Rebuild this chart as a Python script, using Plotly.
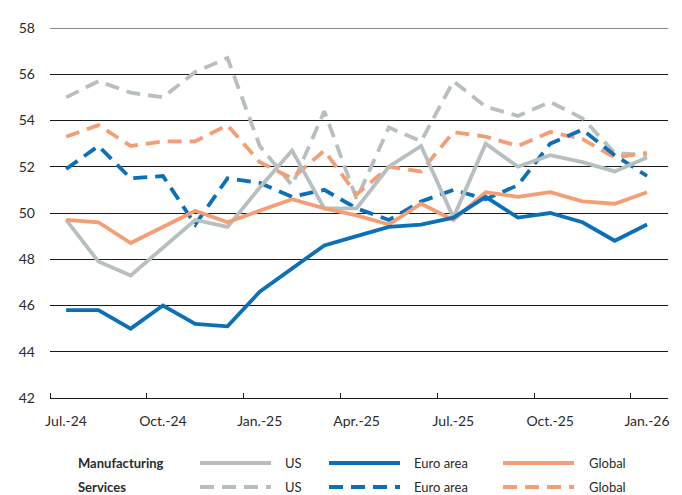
import plotly.graph_objects as go

months = ["Jul.-24", "Aug.-24", "Sep.-24", "Oct.-24", "Nov.-24", "Dec.-24",
          "Jan.-25", "Feb.-25", "Mar.-25", "Apr.-25", "May-25", "Jun.-25",
          "Jul.-25", "Aug.-25", "Sep.-25", "Oct.-25", "Nov.-25", "Dec.-25", "Jan.-26"]
tick_labels = ["Jul.-24", "Oct.-24", "Jan.-25", "Apr.-25", "Jul.-25", "Oct.-25", "Jan.-26"]

us_manuf = [49.7, 47.9, 47.3, 48.5, 49.7, 49.4, 51.1, 52.7, 50.2, 50.2, 52.0, 52.9,
            49.8, 53.0, 52.0, 52.5, 52.2, 51.8, 52.4]
ea_manuf = [45.8, 45.8, 45.0, 46.0, 45.2, 45.1, 46.6, 47.6, 48.6, 49.0, 49.4, 49.5,
            49.8, 50.7, 49.8, 50.0, 49.6, 48.8, 49.5]
gl_manuf = [49.7, 49.6, 48.7, 49.4, 50.1, 49.6, 50.1, 50.6, 50.2, 49.9, 49.5, 50.4,
            49.7, 50.9, 50.7, 50.9, 50.5, 50.4, 50.9]
us_serv = [55.0, 55.7, 55.2, 55.0, 56.1, 56.7, 52.9, 51.2, 54.4, 50.6, 53.7, 53.1,
           55.7, 54.6, 54.2, 54.8, 54.1, 52.6, 52.5]
ea_serv = [51.9, 52.9, 51.5, 51.6, 49.5, 51.5, 51.3, 50.7, 51.0, 50.2, 49.7, 50.5,
           51.0, 50.6, 51.2, 53.0, 53.6, 52.5, 51.6]
gl_serv = [53.3, 53.8, 52.9, 53.1, 53.1, 53.8, 52.2, 51.5, 52.7, 50.8, 52.0, 51.8,
           53.5, 53.3, 52.9, 53.5, 53.2, 52.4, 52.6]

GREY = "#b7bfc1"
BLUE = "#0b70b8"
ORANGE = "#f49e76"
DASH = "14px,8px"
LW = 3.8
FONT = "Lato"
TXT = "#2b2b2b"

idx = list(range(len(months)))

fig = go.Figure()
series = [
    (us_serv, GREY, DASH), (gl_serv, ORANGE, DASH), (ea_serv, BLUE, DASH),
    (us_manuf, GREY, "solid"), (gl_manuf, ORANGE, "solid"), (ea_manuf, BLUE, "solid"),
]
for vals, col, dash in series:
    fig.add_trace(go.Scatter(x=idx, y=vals, mode="lines", showlegend=False,
                             line=dict(color=col, width=LW, dash=dash),
                             hoverinfo="skip"))

# page has an 8px body margin: figure drawn from (8, 8)
OFF = 8
W, H = 682 - OFF, 495 - OFF
L, R, T, B = 50 - OFF, 14, 28 - OFF, 97
pw, ph = W - L - R, H - T - B

def px(x):
    return (x - OFF - L) / pw

def py(y):
    return (H - B - (y - OFF)) / ph

shapes = []
annotations = []
# top reference line
shapes.append(dict(type="line", xref="paper", yref="y", x0=0, x1=1, y0=58, y1=58,
                   line=dict(color="#8a8a8a", width=2), layer="above"))

# custom legend
rows = [("Manufacturing", 463, "solid"), ("Services", 487, DASH)]
items = [("US", GREY, 200, 271, 283), ("Euro area", BLUE, 329, 400, 412),
         ("Global", ORANGE, 503, 574, 587)]
for title, y, dash in rows:
    annotations.append(dict(text="<b>" + title + "</b>", xref="paper", yref="paper",
                            x=px(76), y=py(y), xanchor="left", yanchor="middle",
                            showarrow=False, font=dict(family=FONT, size=13, color=TXT)))
    for name, col, x0, x1, xt in items:
        shapes.append(dict(type="line", xref="paper", yref="paper",
                           x0=px(x0), x1=px(x1), y0=py(y), y1=py(y),
                           line=dict(color=col, width=LW, dash=dash)))
        annotations.append(dict(text=name, xref="paper", yref="paper",
                                x=px(xt), y=py(y), xanchor="left", yanchor="middle",
                                showarrow=False, font=dict(family=FONT, size=13, color=TXT)))

fig.update_layout(
    width=W, height=H,
    margin=dict(l=L, r=R, t=T, b=B, pad=0),
    paper_bgcolor="white", plot_bgcolor="white",
    font=dict(family=FONT, size=14, color=TXT),
    shapes=shapes, annotations=annotations,
    xaxis=dict(range=[-0.5, 18.65], tickmode="array",
               tickvals=[months.index(t) for t in tick_labels], ticktext=tick_labels,
               ticks="", showgrid=False, zeroline=False,
               showline=True, linecolor="#1a1a1a", linewidth=1.2,
               ticklabelstandoff=10,
               minor=dict(tickmode="array", tickvals=[i - 0.5 for i in range(0, 19, 3)],
                          ticks="inside", ticklen=5, tickcolor="#1a1a1a", tickwidth=1,
                          showgrid=False)),
    yaxis=dict(range=[42, 58], dtick=2, tick0=42, showgrid=True, gridcolor="#1a1a1a",
               gridwidth=1, zeroline=False, showline=False, ticks="",
               ticklabelstandoff=14),
)

fig.write_html("out.html")
